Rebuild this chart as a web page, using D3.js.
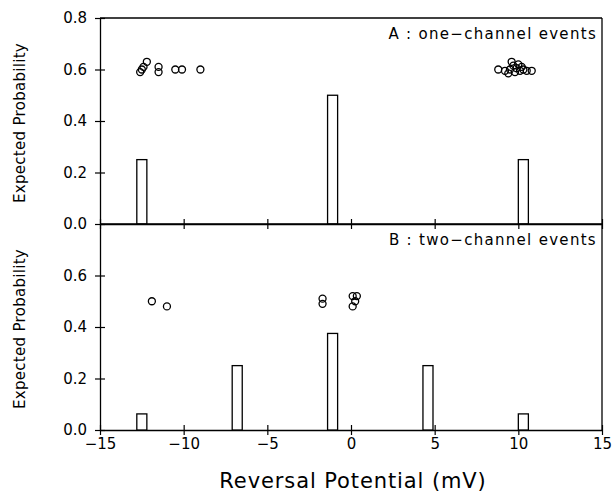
<!DOCTYPE html>
<html>
<head>
<meta charset="utf-8">
<script src="https://cdn.jsdelivr.net/npm/d3@7"></script>
<style>
  body { margin: 0; background: #fff; }
  text { font-family: "DejaVu Sans", "Liberation Sans", Arial, sans-serif; fill: #000; }
</style>
</head>
<body>
<div id="chart"></div>
<script>
// bar positions (mV) and expected probabilities
const barsA = [-12.5, -1.1, 10.3];
const probA = [0.25, 0.5, 0.25];
const barsB = [-12.5, -6.8, -1.1, 4.6, 10.3];
const probB = [0.0625, 0.25, 0.375, 0.25, 0.0625];

// observed events (reversal potential, plotted height)
const eventsAx = [-12.6, -12.5, -12.4, -12.2, -11.5, -11.5, -10.5, -10.1, -9.0,
                  8.8, 9.2, 9.4, 9.5, 9.6, 9.7, 9.8, 9.9, 10.0, 10.1, 10.2, 10.3, 10.5, 10.8];
const eventsAy = [0.59, 0.60, 0.61, 0.63, 0.61, 0.59, 0.60, 0.60, 0.60,
                  0.60, 0.595, 0.585, 0.60, 0.63, 0.615, 0.59, 0.605, 0.62, 0.595, 0.61, 0.60, 0.595, 0.595];
const eventsBx = [-11.9, -11.0, -1.7, -1.7, 0.1, 0.35, 0.25, 0.1];
const eventsBy = [0.50, 0.48, 0.51, 0.49, 0.52, 0.52, 0.50, 0.48];

const xTicks = [-15, -10, -5, 0, 5, 10, 15];
const yTicksA = [0, 0.2, 0.4, 0.6, 0.8];
const yTicksB = [0, 0.2, 0.4, 0.6];

const W = 614, H = 500;
const left = 100, right = 602;
const barW = 0.6;

const svg = d3.select("#chart").append("svg")
  .attr("width", W).attr("height", H);

const x = d3.scaleLinear().domain([-15, 15]).range([left, right]);
const yA = d3.scaleLinear().domain([0, 0.8]).range([224, 18]);
const yB = d3.scaleLinear().domain([0, 0.8]).range([430, 224]);

const fmtX = d => d < 0 ? "\u2212" + Math.abs(d) : String(d);

function panel(y, bx, bp, ex, ey, yTicks, label, showX) {
  const g = svg.append("g");

  // frame lines: top and right
  g.append("line").attr("x1", left).attr("x2", right).attr("y1", y(0.8)).attr("y2", y(0.8))
    .attr("stroke", "#000").attr("stroke-width", 1.3);
  g.append("line").attr("x1", right).attr("x2", right).attr("y1", y(0.8)).attr("y2", y(0))
    .attr("stroke", "#000").attr("stroke-width", 1.3);

  // y axis
  const ya = g.append("g").attr("transform", `translate(${left},0)`)
    .call(d3.axisLeft(y).tickValues(yTicks).tickFormat(d3.format(".1f")).tickSizeInner(5).tickSizeOuter(0).tickPadding(8));
  ya.select(".domain").attr("stroke-width", 1.3);
  ya.selectAll(".tick line").attr("x2", 5).attr("x1", -5).attr("stroke-width", 1.2);
  ya.selectAll(".tick text").style("font-size", "15px");

  // x axis
  const xa = g.append("g").attr("transform", `translate(0,${y(0)})`)
    .call(d3.axisBottom(x).tickValues(xTicks).tickFormat(showX ? fmtX : "").tickSizeInner(5).tickSizeOuter(0).tickPadding(3));
  xa.select(".domain").attr("stroke-width", 1.3);
  xa.selectAll(".tick line").attr("y1", -5).attr("y2", 5).attr("stroke-width", 1.2);
  xa.selectAll(".tick text").style("font-size", "15px");

  // bars
  g.selectAll(".bar").data(bx).enter().append("rect")
    .attr("x", d => x(d - barW / 2))
    .attr("width", d => x(d + barW / 2) - x(d - barW / 2))
    .attr("y", (d, i) => y(bp[i]))
    .attr("height", (d, i) => y(0) - y(bp[i]))
    .attr("fill", "#fff").attr("stroke", "#000").attr("stroke-width", 1.3);

  // events
  g.selectAll(".pt").data(ex).enter().append("circle")
    .attr("cx", d => x(d))
    .attr("cy", (d, i) => y(ey[i]))
    .attr("r", 3.5)
    .attr("fill", "none").attr("stroke", "#000").attr("stroke-width", 1.3);

  g.append("text")
    .attr("x", right - 5).attr("y", y(0.8) + 21)
    .attr("text-anchor", "end")
    .style("font-size", "15px")
    .style("letter-spacing", "1.3px")
    .text(label);

  g.append("text")
    .attr("transform", `translate(25,${(y(0) + y(0.8)) / 2 + 2}) rotate(-90)`)
    .attr("text-anchor", "middle")
    .style("font-size", "15px")
    .style("letter-spacing", "0.3px")
    .text("Expected Probability");
}

panel(yA, barsA, probA, eventsAx, eventsAy, yTicksA, "A : one\u2212channel events", false);
panel(yB, barsB, probB, eventsBx, eventsBy, yTicksB, "B : two\u2212channel events", true);

svg.append("text")
  .attr("x", (left + right) / 2 + 2).attr("y", 488)
  .attr("text-anchor", "middle")
  .style("font-size", "21px")
  .style("letter-spacing", "0.9px")
  .text("Reversal Potential (mV)");
</script>
</body>
</html>
